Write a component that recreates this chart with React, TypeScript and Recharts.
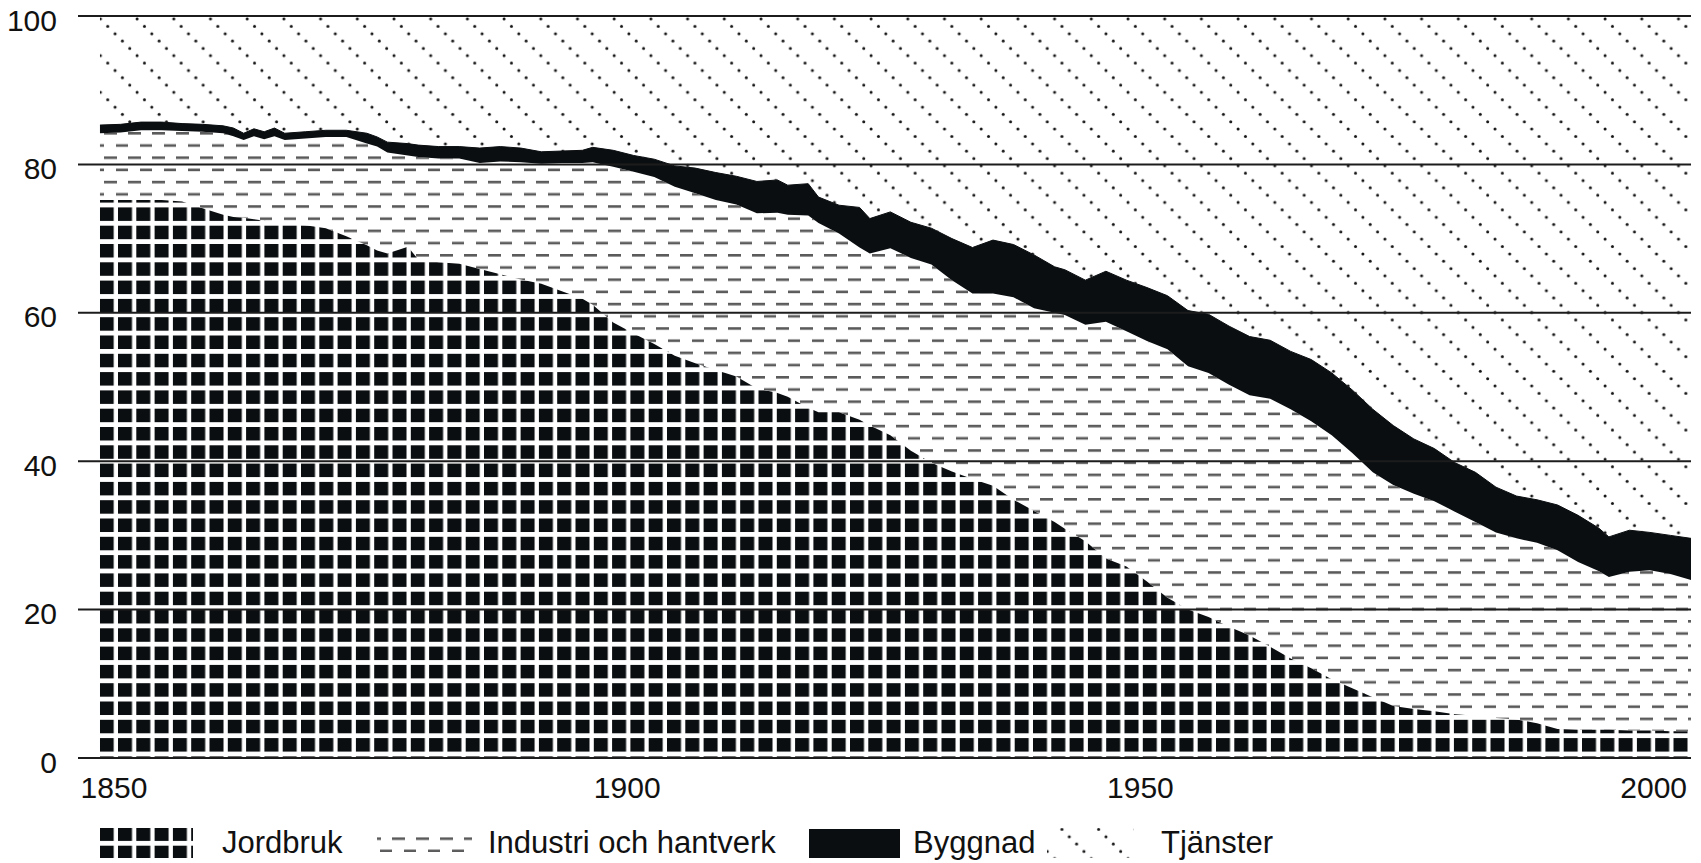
import React from 'react';
import { AreaChart, Area, XAxis, YAxis, ReferenceLine, Legend } from 'recharts';

const years = [1850, 1852, 1854, 1856, 1858, 1860, 1862, 1863, 1864, 1865, 1866, 1867, 1868, 1870, 1872, 1874, 1876, 1877, 1878, 1880, 1881, 1883, 1885, 1887, 1889, 1891, 1893, 1895, 1897, 1898, 1900, 1902, 1904, 1906, 1908, 1910, 1912, 1914, 1916, 1917, 1919, 1920, 1922, 1924, 1925, 1927, 1929, 1931, 1933, 1935, 1937, 1939, 1941, 1943, 1944, 1946, 1948, 1950, 1952, 1954, 1956, 1958, 1960, 1962, 1964, 1966, 1968, 1970, 1972, 1974, 1976, 1978, 1980, 1982, 1984, 1986, 1988, 1990, 1992, 1994, 1996, 1997, 1999, 2001, 2003, 2005];

const jordbruk = [75.2, 75.2, 75.2, 75.2, 75.0, 74.1, 73.2, 72.9, 72.8, 72.6, 72.4, 72.2, 72.0, 71.8, 71.4, 70.3, 69.1, 68.4, 68.0, 68.9, 67.2, 66.8, 66.6, 65.9, 65.2, 64.5, 63.9, 62.9, 61.9, 61.1, 58.7, 57.2, 55.8, 54.2, 53.2, 52.3, 51.4, 49.8, 49.2, 48.7, 47.2, 46.6, 46.6, 45.6, 44.8, 43.5, 41.4, 39.8, 38.6, 37.6, 36.7, 34.8, 33.3, 31.8, 30.9, 29.2, 26.9, 25.8, 23.8, 21.6, 20.0, 19.0, 17.7, 16.5, 15.0, 13.4, 12.1, 10.6, 9.4, 8.2, 7.0, 6.6, 6.3, 5.9, 5.7, 5.4, 5.2, 4.7, 3.9, 3.8, 3.8, 3.8, 3.7, 3.7, 3.6, 3.6];

const industri = [9.0, 9.1, 9.4, 9.4, 9.5, 10.3, 11.0, 10.9, 10.5, 11.2, 11.0, 11.6, 11.3, 11.7, 12.3, 13.4, 13.7, 14.0, 13.6, 12.3, 13.8, 14.0, 14.2, 14.3, 15.2, 15.8, 16.2, 17.3, 18.3, 19.2, 21.0, 21.8, 22.5, 22.8, 22.9, 22.9, 23.2, 23.6, 24.3, 24.5, 25.9, 25.5, 24.1, 23.2, 23.2, 25.2, 26.0, 26.7, 25.8, 25.0, 25.9, 27.3, 27.3, 28.2, 28.8, 29.2, 31.9, 31.7, 32.4, 33.5, 32.8, 32.9, 32.6, 32.4, 33.4, 33.6, 33.3, 32.9, 31.7, 30.3, 29.8, 29.0, 28.3, 27.3, 26.1, 25.0, 24.4, 24.3, 24.1, 22.6, 21.4, 20.6, 21.4, 21.6, 21.2, 20.4];

const byggnad = [1.1, 1.1, 1.1, 1.1, 1.0, 1.0, 1.0, 1.1, 0.9, 1.0, 1.0, 1.1, 0.9, 0.9, 0.9, 0.9, 1.4, 1.3, 1.4, 1.6, 1.6, 1.6, 1.6, 2.0, 2.0, 1.9, 1.6, 1.6, 1.7, 2.0, 2.2, 2.2, 2.4, 2.8, 3.4, 3.7, 3.8, 4.3, 4.4, 4.0, 4.3, 3.5, 3.8, 5.4, 4.7, 4.9, 4.8, 4.9, 5.6, 6.2, 7.2, 7.1, 7.2, 6.2, 6.1, 6.0, 6.8, 6.9, 7.2, 7.2, 7.5, 7.9, 7.9, 7.9, 7.9, 7.8, 8.3, 8.4, 8.5, 8.5, 8.0, 7.4, 7.1, 6.6, 6.7, 6.1, 5.7, 5.8, 6.1, 6.3, 5.8, 5.4, 5.6, 5.1, 5.2, 5.6];

const tjanster = [14.7, 14.6, 14.3, 14.3, 14.5, 14.6, 14.8, 15.1, 15.8, 15.2, 15.6, 15.1, 15.8, 15.6, 15.4, 15.4, 15.8, 16.3, 17.0, 17.2, 17.4, 17.6, 17.6, 17.8, 17.6, 17.8, 18.3, 18.2, 18.1, 17.7, 18.1, 18.8, 19.3, 20.2, 20.5, 21.1, 21.6, 22.3, 22.1, 22.8, 22.6, 24.4, 25.5, 25.8, 27.3, 26.4, 27.8, 28.6, 30.0, 31.2, 30.2, 30.8, 32.2, 33.8, 34.2, 35.6, 34.4, 35.6, 36.6, 37.7, 39.7, 40.2, 41.8, 43.2, 43.7, 45.2, 46.3, 48.1, 50.4, 53.0, 55.2, 57.0, 58.3, 60.2, 61.5, 63.5, 64.7, 65.2, 65.9, 67.3, 69.0, 70.2, 69.3, 69.6, 70.0, 70.4];

const xTicks = [1850, 1900, 1950, 2000];
const yTicks = [0, 20, 40, 60, 80, 100];
const seriesNames = ['Jordbruk', 'Industri och hantverk', 'Byggnad', 'Tjänster'];

const data = years.map((year, i) => ({
  year,
  jordbruk: jordbruk[i],
  industri: industri[i],
  byggnad: byggnad[i],
  tjanster: tjanster[i],
}));

const INK = '#0a0e10';
const DASH = '#5a5a5a';
const FONT = "'Liberation Sans', Arial, Helvetica, sans-serif";
const NUMFONT = "'Liberation Sans Narrow', 'Arial Narrow', 'Liberation Sans', Arial, sans-serif";

const Patterns = ({ prefix }: { prefix: string }) => (
  <defs>
    <pattern id={`${prefix}Jord`} patternUnits="userSpaceOnUse" width={18.3} height={18.3} x={18.5} y={24.4}>
      <rect x={0} y={0} width={14} height={13.5} fill={INK} />
    </pattern>
    <pattern id={`${prefix}Ind`} patternUnits="userSpaceOnUse" width={24} height={24.4} x={0} y={10}>
      <rect x={0} y={0} width={13} height={2.6} fill={DASH} />
      <rect x={12} y={12.2} width={13} height={2.6} fill={DASH} />
    </pattern>
    <pattern id={`${prefix}Tj`} patternUnits="userSpaceOnUse" width={36.7} height={36.7} x={8} y={8}>
      {[0, 1, 2, 3, 4].map((k) => (
        <circle key={k} cx={3.67 + k * 7.34} cy={3.67 + k * 7.34} r={1.5} fill="#151515" />
      ))}
    </pattern>
  </defs>
);

const XTick = (props: any) => {
  const { x, y, payload } = props;
  return (
    <text x={x + 14} y={y} dy="0.71em" textAnchor="middle" fontSize={30} fontFamily={NUMFONT} fill="#111">
      {payload.value}
    </text>
  );
};

const YTick = (props: any) => {
  const { x, y, payload } = props;
  return (
    <text x={x} y={y} dy={14.5} textAnchor="end" fontSize={30} fontFamily={NUMFONT} fill="#111">
      {payload.value}
    </text>
  );
};

const LegendContent = () => (
  <svg width={1693} height={60} style={{ display: 'block', overflow: 'visible' }}>
    <Patterns prefix="lg" />
    <rect x={92} y={25} width={93} height={30} fill="url(#lgJord)" />
    <text x={214} y={50} fontSize={31} fontFamily={FONT} fill="#111">{seriesNames[0]}</text>
    <rect x={369} y={31} width={95} height={18} fill="url(#lgInd)" />
    <text x={480} y={50} fontSize={31} fontFamily={FONT} fill="#111">{seriesNames[1]}</text>
    <rect x={801} y={26} width={91} height={29} fill={INK} />
    <text x={905} y={50} fontSize={31} fontFamily={FONT} fill="#111">{seriesNames[2]}</text>
    <rect x={1039} y={25} width={87} height={30} fill="url(#lgTj)" />
    <text x={1153} y={50} fontSize={31} fontFamily={FONT} fill="#111">{seriesNames[3]}</text>
  </svg>
);

export default function App() {
  return (
    <div style={{ marginTop: -8 }}>
      <AreaChart
        width={1693}
        height={863}
        data={data}
        margin={{ top: 16, right: 10, bottom: 0, left: 0 }}
      >
        <Patterns prefix="p" />
        <XAxis
          dataKey="year"
          type="number"
          domain={[1847.86, 2005]}
          ticks={xTicks}
          axisLine={false}
          tickLine={false}
          tickSize={0}
          tickMargin={19}
          height={45}
          tick={<XTick />}
          allowDataOverflow
        />
        <YAxis
          type="number"
          domain={[0, 100]}
          ticks={yTicks}
          axisLine={false}
          tickLine={false}
          tickSize={0}
          tickMargin={21}
          width={70}
          tick={<YTick />}
        />
        <Area type="linear" dataKey="jordbruk" name={seriesNames[0]} stackId="s" fill="url(#pJord)" fillOpacity={1} stroke="none" dot={false} activeDot={false} isAnimationActive={false} />
        <Area type="linear" dataKey="industri" name={seriesNames[1]} stackId="s" fill="url(#pInd)" fillOpacity={1} stroke="none" dot={false} activeDot={false} isAnimationActive={false} />
        <Area type="linear" dataKey="byggnad" name={seriesNames[2]} stackId="s" fill={INK} fillOpacity={1} stroke={INK} strokeWidth={1} dot={false} activeDot={false} isAnimationActive={false} />
        <Area type="linear" dataKey="tjanster" name={seriesNames[3]} stackId="s" fill="url(#pTj)" fillOpacity={1} stroke="none" dot={false} activeDot={false} isAnimationActive={false} />
        {yTicks.map((v) => (
          <ReferenceLine key={v} y={v} stroke="#1c1c1c" strokeWidth={2} ifOverflow="extendDomain" />
        ))}
        <Legend
          verticalAlign="bottom"
          height={60}
          width={1693}
          wrapperStyle={{ left: 0, width: 1693 }}
          content={() => <LegendContent />}
        />
      </AreaChart>
    </div>
  );
}
